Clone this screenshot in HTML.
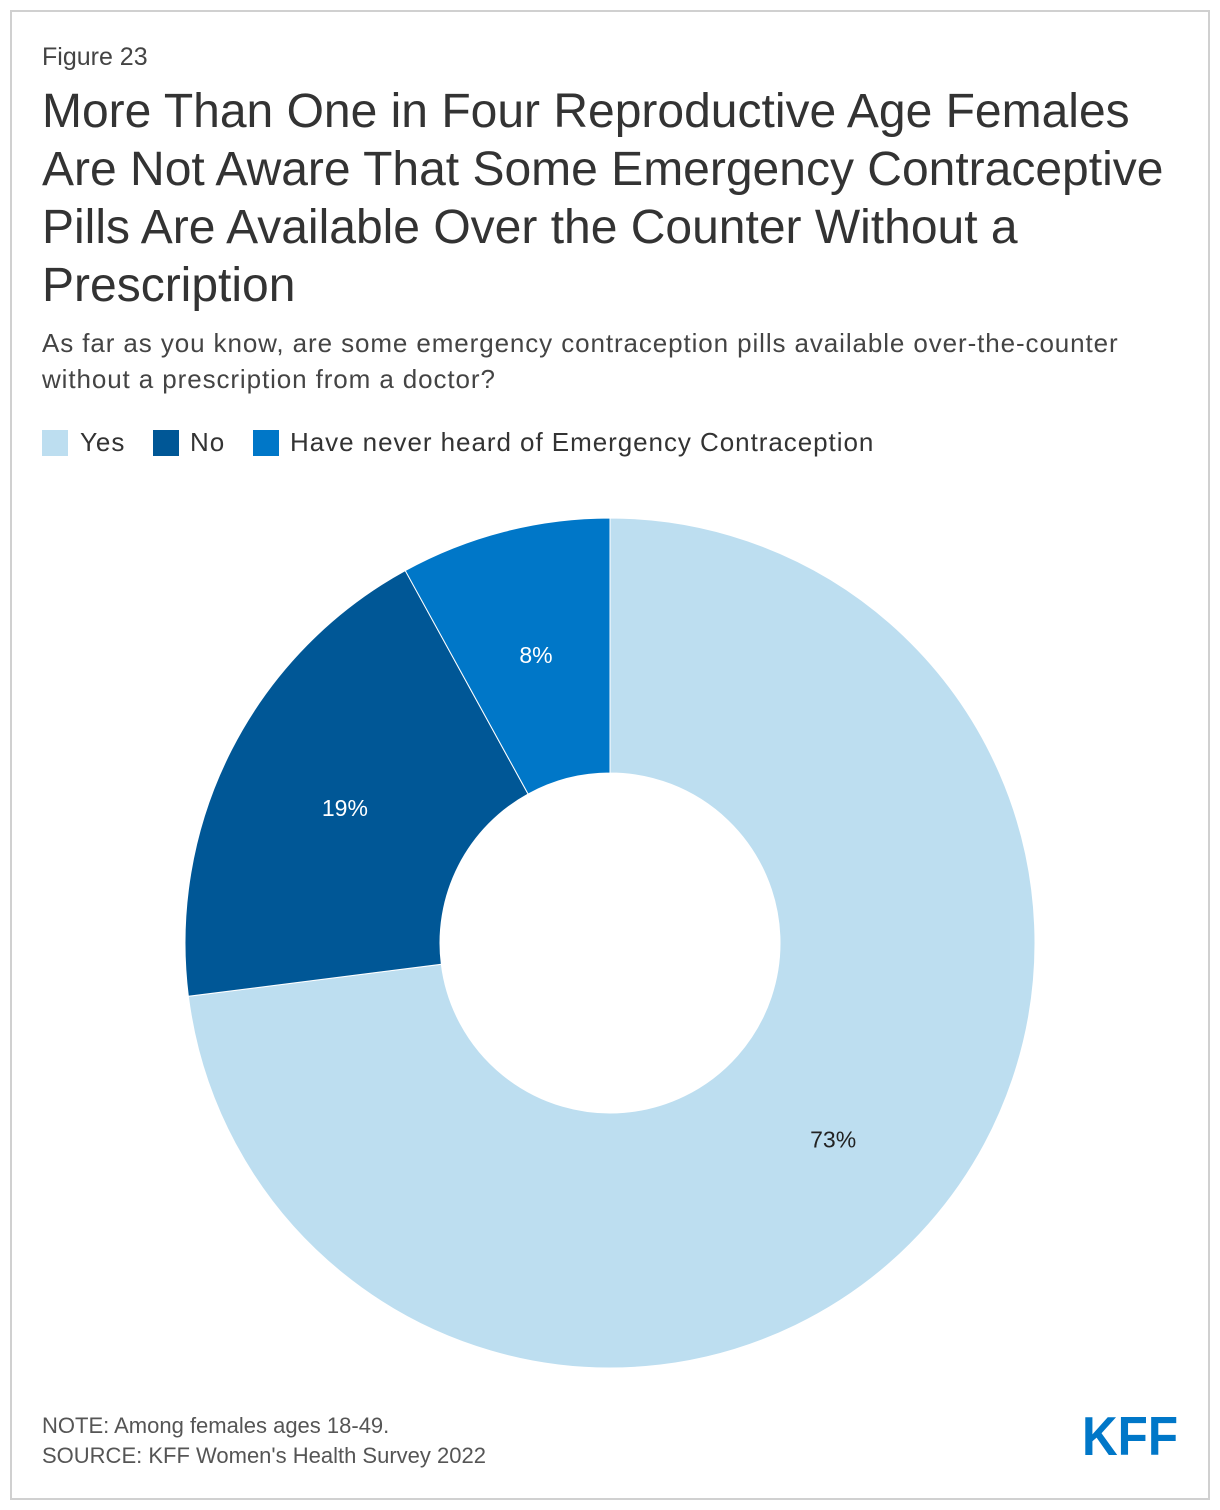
<!DOCTYPE html>
<html><head><meta charset="utf-8"><style>
body{margin:0;width:1220px;height:1510px;background:#fff;font-family:"Liberation Sans",sans-serif;position:relative;overflow:hidden}
.frame{position:absolute;left:10px;top:10px;width:1196px;height:1486px;border:2px solid #d0d0d0}
.abs{position:absolute;left:42px;color:#333;white-space:nowrap}
.sw{position:absolute;top:430px;width:26px;height:26px}
.lg{position:absolute;top:427px;font-size:26px;letter-spacing:0.95px;color:#333}
</style></head><body>
<div class="frame"></div>
<div class="abs" style="top:43px;font-size:25px;color:#444">Figure 23</div>
<div class="abs" style="top:83px;font-size:48px;line-height:58px;color:#333">More Than One in Four Reproductive Age Females<br>Are Not Aware That Some Emergency Contraceptive<br>Pills Are Available Over the Counter Without a<br>Prescription</div>
<div class="abs" style="top:325px;font-size:26px;letter-spacing:0.9px;line-height:36px;color:#444">As far as you know, are some emergency contraception pills available over-the-counter<br>without a prescription from a doctor?</div>
<div>
<i class="sw" style="left:42px;background:#bddef0"></i><span class="lg" style="left:80px">Yes</span>
<i class="sw" style="left:153px;background:#005796"></i><span class="lg" style="left:190px">No</span>
<i class="sw" style="left:253px;background:#0077c8"></i><span class="lg" style="left:290px">Have never heard of Emergency Contraception</span>
</div>
<svg id="chart" width="1220" height="1510" style="position:absolute;left:0;top:0"></svg>
<div class="abs" style="top:1411px;font-size:22px;line-height:30px;color:#555">NOTE: Among females ages 18-49.<br>SOURCE: KFF Women's Health Survey 2022</div>
<svg style="position:absolute;left:1078px;top:1410px" width="104" height="50"><text x="4" y="45" font-family="Liberation Sans" font-weight="bold" font-size="55" fill="#0077c8" textLength="96" lengthAdjust="spacingAndGlyphs">KFF</text></svg>
<script>
const categories=["Yes","No","Have never heard of Emergency Contraception"];
const values=[73,19,8];
const labels=["73%","19%","8%"];
const colors=["#bddef0","#005796","#0077c8"];
const textColors=["#222","#fff","#fff"];
const svg=document.getElementById('chart');
const cx=610,cy=943,R=425,r=170;
const total=values.reduce((a,b)=>a+b,0);
function pt(a,rad){return [cx+rad*Math.sin(a),cy-rad*Math.cos(a)];}
let start=0;
values.forEach((v,i)=>{
  const end=start+v/total*2*Math.PI;
  const large=(end-start)>Math.PI?1:0;
  const [x1,y1]=pt(start,R),[x2,y2]=pt(end,R),[x3,y3]=pt(end,r),[x4,y4]=pt(start,r);
  const p=document.createElementNS('http://www.w3.org/2000/svg','path');
  p.setAttribute('d',`M${x1},${y1}A${R},${R} 0 ${large} 1 ${x2},${y2}L${x3},${y3}A${r},${r} 0 ${large} 0 ${x4},${y4}Z`);
  p.setAttribute('fill',colors[i]);p.setAttribute('stroke','#fff');p.setAttribute('stroke-width','1');
  
  
  svg.appendChild(p);
  const mid=(start+end)/2;const [lx,ly]=pt(mid,(R+r)/2);
  const t=document.createElementNS('http://www.w3.org/2000/svg','text');
  t.setAttribute('x',lx);t.setAttribute('y',ly+8);t.setAttribute('text-anchor','middle');
  t.setAttribute('font-size','23');t.setAttribute('font-family','Liberation Sans, sans-serif');t.setAttribute('fill',textColors[i]);
  t.textContent=labels[i];
  
  
  svg.appendChild(t);
  start=end;
});
</script>
</body></html>
